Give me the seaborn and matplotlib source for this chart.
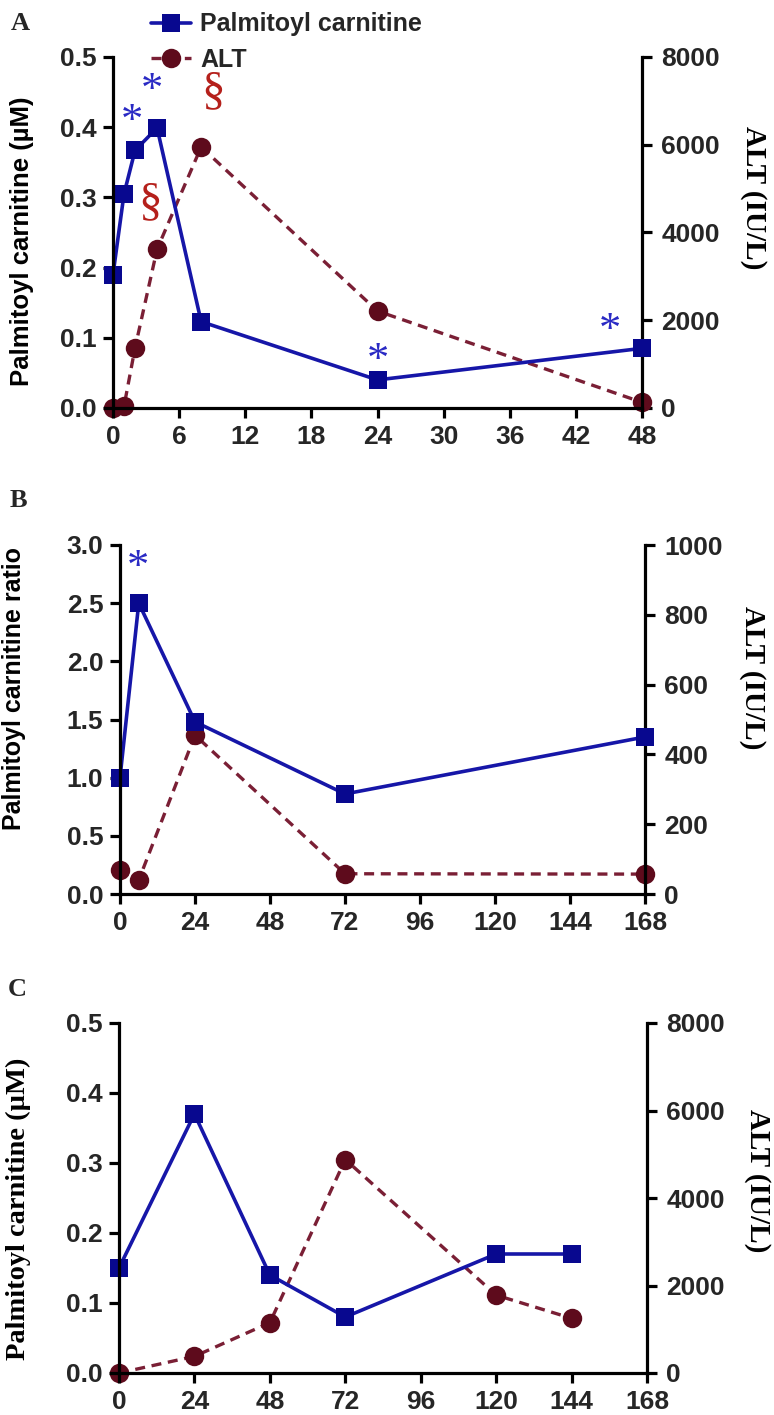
import matplotlib
matplotlib.use("Agg")
import matplotlib.pyplot as plt
import seaborn as sns
from matplotlib.lines import Line2D

# ---------------- data ----------------
# Panel A (hours 0-48)
time_A = [0, 1, 2, 4, 8, 24, 48]
pc_A = [0.19, 0.305, 0.367, 0.399, 0.123, 0.04, 0.085]
alt_A = [0, 40, 1370, 3620, 5950, 2210, 130]
star_A = [2, 4, 24, 48]          # time points marked with *
sect_A = [4, 8]                  # ALT time points marked with §

# Panel B (hours 0-168)
time_B = [0, 6, 24, 72, 168]
ratio_B = [1.0, 2.5, 1.48, 0.86, 1.35]
alt_B = [69, 40, 455, 58, 57]
star_B = [6]

# Panel C (hours 0-168)
time_C = [0, 24, 48, 72, 120, 144]
pc_C = [0.15, 0.37, 0.14, 0.08, 0.17, 0.17]
alt_C = [0, 380, 1150, 4880, 1780, 1250]

xticks_A = [0, 6, 12, 18, 24, 30, 36, 42, 48]
xticks_BC = [0, 24, 48, 72, 96, 120, 144, 168]

# ---------------- style ----------------
sns.set_theme(style="white")
plt.rcParams['font.family'] = ['Liberation Sans', 'DejaVu Sans']
plt.rcParams['font.weight'] = 'bold'

BLUE_LINE = "#1616a8"
BLUE_MARK = "#08088f"
RED_LINE = "#7a1f35"
RED_MARK = "#5e0b1c"
STAR_COL = "#2a2ac4"
SECT_COL = "#b5201b"
SPINE_W = 2.3
TICK_FS = 19

W, H = 774, 1415
fig = plt.figure(figsize=(W / 100, H / 100), dpi=100)


def frac_box(l, r, t, b):
    return [l / W, 1 - b / H, (r - l) / W, (b - t) / H]


def style_axes(ax, ax2):
    ax.spines['top'].set_visible(False)
    ax.spines['right'].set_visible(False)
    for s in ('left', 'bottom'):
        ax.spines[s].set_linewidth(SPINE_W)
        ax.spines[s].set_color('black')
    for s in ('top', 'left', 'bottom'):
        ax2.spines[s].set_visible(False)
    ax2.spines['right'].set_linewidth(SPINE_W)
    ax2.spines['right'].set_color('black')
    ax.tick_params(axis='both', direction='out', length=7, width=SPINE_W,
                   color='black', labelsize=TICK_FS, pad=5, left=True, bottom=True)
    ax2.tick_params(axis='y', direction='out', length=7, width=SPINE_W,
                    color='black', labelsize=TICK_FS, pad=7, right=True)
    for lab in ax.get_xticklabels() + ax.get_yticklabels() + ax2.get_yticklabels():
        lab.set_fontweight('bold')
    ax.grid(False)
    ax2.grid(False)
    ax.set_zorder(ax2.get_zorder() + 1)
    ax.patch.set_visible(False)


def draw_panel(box, t, pc, alt, xlim, xticks, ylim, yticks, yfmt, alt_lim, alt_ticks,
               ylabel, ylabel_family, ylabel_fs, lcoords, rcoords):
    ax = fig.add_axes(frac_box(*box))
    ax2 = ax.twinx()
    sns.lineplot(x=t, y=alt, ax=ax2, color=RED_LINE, linewidth=2.4,
                 linestyle=(0, (3, 2)), marker='o', markersize=14,
                 markerfacecolor=RED_MARK, markeredgecolor=RED_MARK,
                 markeredgewidth=0, clip_on=False, legend=False)
    sns.lineplot(x=t, y=pc, ax=ax, color=BLUE_LINE, linewidth=2.6,
                 marker='s', markersize=12.5, markerfacecolor=BLUE_MARK,
                 markeredgecolor=BLUE_MARK, markeredgewidth=0,
                 clip_on=False, legend=False)
    ax.set_xlim(*xlim)
    ax.set_xticks(xticks)
    ax.set_xticklabels([str(v) for v in xticks])
    ax.set_ylim(*ylim)
    ax.set_yticks(yticks)
    ax.set_yticklabels([yfmt.format(v) for v in yticks])
    ax2.set_ylim(*alt_lim)
    ax2.set_yticks(alt_ticks)
    ax2.set_yticklabels([str(v) for v in alt_ticks])
    ax.set_xlabel('')
    ax.set_ylabel(ylabel, fontsize=ylabel_fs, fontweight='bold', family=ylabel_family,
                  rotation=90, va='center', ha='center', color='black')
    ax.yaxis.set_label_coords(*lcoords)
    ax2.set_ylabel('ALT (IU/L)', fontsize=21, fontweight='bold',
                   family=['Liberation Serif', 'DejaVu Serif'],
                   rotation=-90, va='center', ha='center', color='black')
    ax2.yaxis.set_label_coords(*rcoords)
    style_axes(ax, ax2)
    return ax, ax2


def star(ax, t, y, dx, dy):
    ax.annotate('*', xy=(t, y), xytext=(dx, dy), textcoords='offset pixels',
                ha='center', va='center', fontsize=32, color=STAR_COL,
                family=['Liberation Serif', 'DejaVu Serif'], fontweight='normal',
                annotation_clip=False)


def sect(ax, t, y, dx, dy):
    ax.annotate('§', xy=(t, y), xytext=(dx, dy), textcoords='offset pixels',
                ha='center', va='center', fontsize=34, color=SECT_COL,
                family=['Liberation Serif', 'DejaVu Serif'], fontweight='normal',
                annotation_clip=False)


SANS = ['Liberation Sans', 'DejaVu Sans']
SERIF = ['Liberation Serif', 'DejaVu Serif']

# ---------------- Panel A ----------------
axA, axA2 = draw_panel((113, 642, 57, 408), time_A, pc_A, alt_A, (0, 48), xticks_A,
                       (0, 0.5), [0.0, 0.1, 0.2, 0.3, 0.4, 0.5], "{:.1f}",
                       (0, 8000), [0, 2000, 4000, 6000, 8000],
                       'Palmitoyl carnitine (µM)', SANS, 18.5,
                       (-0.172, 0.476), (1.21, 0.60))
star_offsets_A = {2: (-3, 28), 4: (-5, 37), 24: (0, 19), 48: (-32, 17)}
for tt in star_A:
    star(axA, tt, pc_A[time_A.index(tt)], *star_offsets_A[tt])
sect_offsets_A = {4: (-7, 46), 8: (12, 55)}
for tt in sect_A:
    sect(axA2, tt, alt_A[time_A.index(tt)], *sect_offsets_A[tt])

# ---------------- Panel B ----------------
axB, axB2 = draw_panel((120, 645, 545, 894), time_B, ratio_B, alt_B, (0, 168), xticks_BC,
                       (0, 3.0), [0.0, 0.5, 1.0, 1.5, 2.0, 2.5, 3.0], "{:.1f}",
                       (0, 1000), [0, 200, 400, 600, 800, 1000],
                       'Palmitoyl carnitine ratio', SANS, 18,
                       (-0.202, 0.59), (1.204, 0.62))
for tt in star_B:
    star(axB, tt, ratio_B[time_B.index(tt)], -1, 35)

# ---------------- Panel C ----------------
axC, axC2 = draw_panel((119, 647, 1023, 1373), time_C, pc_C, alt_C, (0, 168), xticks_BC,
                       (0, 0.5), [0.0, 0.1, 0.2, 0.3, 0.4, 0.5], "{:.1f}",
                       (0, 8000), [0, 2000, 4000, 6000, 8000],
                       'Palmitoyl carnitine (µM)', SERIF, 20.5,
                       (-0.191, 0.47), (1.21, 0.55))

# ---------------- panel letters ----------------
for letter, (px, py) in zip("ABC", [(20, 23), (18, 500), (17, 990)]):
    fig.text(px / W, 1 - py / H, letter, fontsize=19, fontweight='bold',
             family=SERIF, ha='center', va='center')

# ---------------- legend ----------------
handles = [
    Line2D([], [], color=BLUE_LINE, linewidth=2.6, marker='s', markersize=12.5,
           markerfacecolor=BLUE_MARK, markeredgewidth=0),
    Line2D([], [], color=RED_LINE, linewidth=2.4, linestyle=(0, (3, 2)), marker='o',
           markersize=14, markerfacecolor=RED_MARK, markeredgewidth=0),
]
fig.legend(handles, ['Palmitoyl carnitine', 'ALT'], loc='upper left',
           bbox_to_anchor=(138 / W, 1.0), frameon=False, borderpad=0,
           handlelength=1.6, handletextpad=0.4, labelspacing=0.45,
           prop={'size': 18, 'weight': 'bold', 'family': SANS})

fig.savefig("out.png", dpi=100)
